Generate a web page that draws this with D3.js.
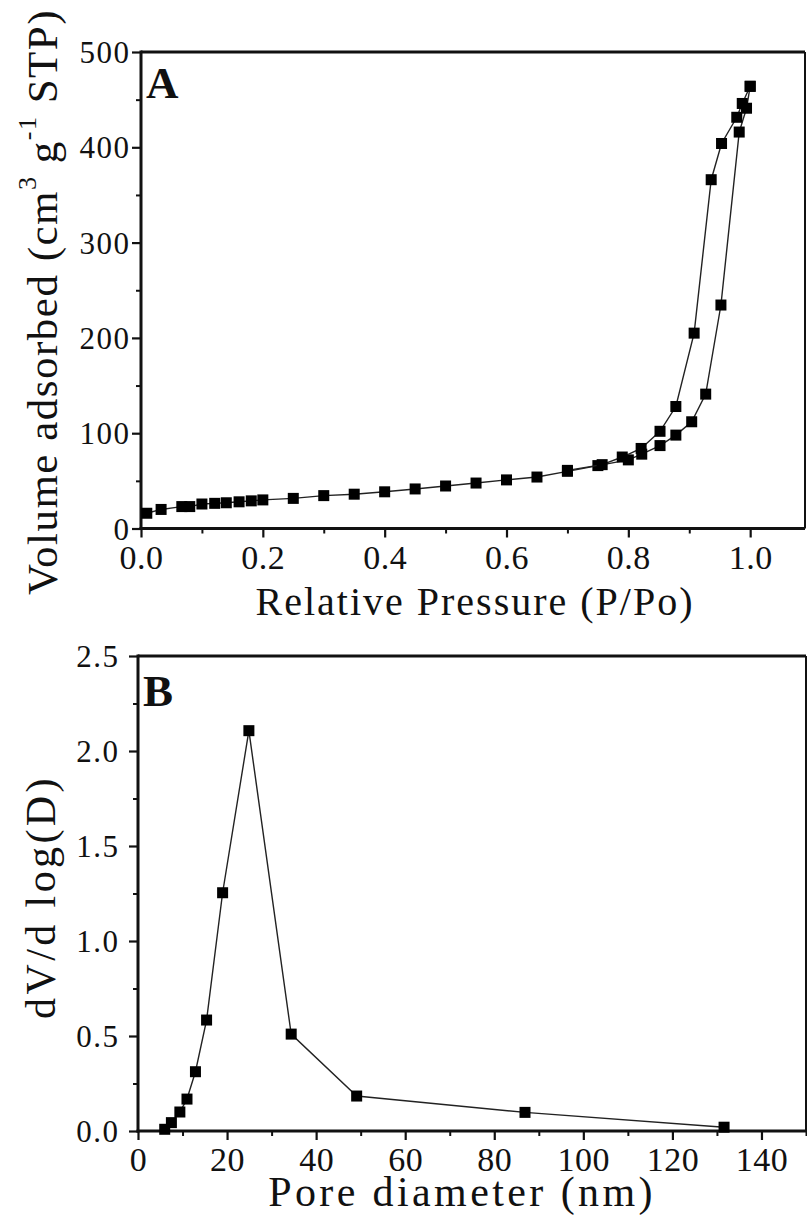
<!DOCTYPE html>
<html>
<head>
<meta charset="utf-8">
<script src="https://cdn.jsdelivr.net/npm/d3@7"></script>
</head>
<body style="margin:0;background:#fff">
<svg id="chart" width="807" height="1231"></svg>
<script>
// ---------- Data (panel A: N2 isotherm) ----------
const adsorptionP = [0.0095,0.033,0.067,0.08,0.1,0.121,0.14,0.161,0.181,0.2,0.25,0.30,0.35,0.40,0.45,0.50,0.55,0.60,0.65,0.70,0.75,0.80,0.822,0.852,0.878,0.904,0.927,0.952,0.982,0.994,1.0];
const adsorptionV = [16,20,23,23,25.7,26.4,27,28,29,30,31.6,34.5,36,38.5,41.5,44.6,47.7,51,54,60,66,72,78,87,98,112,141,234.5,416,441,464];
const desorptionP = [1.0,0.987,0.978,0.953,0.936,0.908,0.878,0.852,0.821,0.79,0.757,0.70];
const desorptionV = [464,446,431.5,404,366,205,128,102,84,75,67,61];

// ---------- Data (panel B: pore size distribution) ----------
const poreD = [6.0,7.5,9.4,11.0,12.9,15.4,19.0,24.9,34.4,49.1,86.9,131.6];
const poreV = [0.009,0.044,0.1,0.168,0.312,0.584,1.254,2.107,0.51,0.184,0.098,0.02];

// ---------- Tick labels ----------
const aXTicks = [0,0.2,0.4,0.6,0.8,1.0];
const aXMinor = [0.1,0.3,0.5,0.7,0.9];
const aYTicks = [0,100,200,300,400,500];
const aYMinor = [50,150,250,350,450];
const bXTicks = [0,20,40,60,80,100,120,140];
const bXMinor = [10,30,50,70,90,110,130,150];
const bYTicks = [0,0.5,1.0,1.5,2.0,2.5];
const bYMinor = [0.25,0.75,1.25,1.75,2.25];

const FONT = "Liberation Serif";
const svg = d3.select("#chart");

function panel(cfg) {
  const x = d3.scaleLinear().domain(cfg.xDomain).range(cfg.xRange);
  const y = d3.scaleLinear().domain(cfg.yDomain).range(cfg.yRange);
  const g = svg.append("g");
  const x0 = cfg.xRange[0], x1 = cfg.xRange[1], yb = cfg.yRange[0], yt = cfg.yRange[1];

  // minor ticks
  g.append("g").attr("transform", `translate(0,${yb})`)
    .call(d3.axisBottom(x).tickValues(cfg.xMinor).tickSize(5).tickFormat(""))
    .call(s => s.select(".domain").remove())
    .call(s => s.selectAll("line").attr("stroke-width", 2).attr("stroke", "#111"));
  g.append("g").attr("transform", `translate(${x0},0)`)
    .call(d3.axisLeft(y).tickValues(cfg.yMinor).tickSize(5).tickFormat(""))
    .call(s => s.select(".domain").remove())
    .call(s => s.selectAll("line").attr("stroke-width", 2).attr("stroke", "#111"));

  // major x ticks
  g.append("g").attr("transform", `translate(0,${yb})`)
    .call(d3.axisBottom(x).tickValues(cfg.xTicks).tickSize(9).tickFormat(cfg.xFmt))
    .call(s => s.attr("font-family", FONT))
    .call(s => s.select(".domain").remove())
    .call(s => s.selectAll("line").attr("stroke-width", 2.2).attr("stroke", "#111"))
    .call(s => s.selectAll("text")
      .attr("font-family", FONT).attr("font-size", 34).attr("fill", "#111")
      .attr("letter-spacing", 0.5)
      .attr("y", 40).attr("dy", 0));

  // major y ticks
  g.append("g").attr("transform", `translate(${x0},0)`)
    .call(d3.axisLeft(y).tickValues(cfg.yTicks).tickSize(9).tickFormat(cfg.yFmt))
    .call(s => s.attr("font-family", FONT))
    .call(s => s.select(".domain").remove())
    .call(s => s.selectAll("line").attr("stroke-width", 2.2).attr("stroke", "#111"))
    .call(s => s.selectAll("text")
      .attr("font-family", FONT).attr("font-size", 31).attr("fill", "#111")
      .attr("letter-spacing", 1.5)
      .attr("x", -cfg.yGap + 1.5).attr("dy", "0.34em"));

  // frame
  g.append("line").attr("x1", x0).attr("x2", x1).attr("y1", yt).attr("y2", yt).attr("stroke", "#111").attr("stroke-width", 3);
  g.append("line").attr("x1", x1).attr("x2", x1).attr("y1", yt).attr("y2", yb).attr("stroke", "#111").attr("stroke-width", 2);
  g.append("line").attr("x1", x0).attr("x2", x0).attr("y1", yt - 1.5).attr("y2", yb + 1.5).attr("stroke", "#111").attr("stroke-width", 3);
  g.append("line").attr("x1", x0 - 1.5).attr("x2", x1).attr("y1", yb).attr("y2", yb).attr("stroke", "#111").attr("stroke-width", 3);

  // series
  cfg.series.forEach(ser => {
    const pts = ser.xs.map((v, i) => [v, ser.ys[i]]);
    g.append("path").datum(pts)
      .attr("fill", "none").attr("stroke", "#222").attr("stroke-width", 1.4)
      .attr("d", d3.line().x(d => x(d[0])).y(d => y(d[1])));
    g.selectAll(null).data(pts).enter().append("rect")
      .attr("x", d => x(d[0]) - 5.5).attr("y", d => y(d[1]) - 5.5)
      .attr("width", 11).attr("height", 11).attr("fill", "#000");
  });

  // panel letter
  g.append("text").attr("x", x0 + 5).attr("y", cfg.letterY)
    .attr("font-family", FONT).attr("fill", "#111")
    .attr("font-size", 45).attr("font-weight", "bold").text(cfg.letter);
  return g;
}

panel({
  xDomain: [0, 1.09], xRange: [141, 805],
  yDomain: [0, 500], yRange: [528.5, 52],
  xTicks: aXTicks, xMinor: aXMinor, yTicks: aYTicks, yMinor: aYMinor,
  xFmt: d3.format(".1f"), yFmt: d3.format("d"), yGap: 12,
  series: [{xs: adsorptionP, ys: adsorptionV}, {xs: desorptionP, ys: desorptionV}],
  letter: "A", letterY: 98
});

panel({
  xDomain: [0, 150], xRange: [138, 806],
  yDomain: [0, 2.5], yRange: [1131, 656],
  xTicks: bXTicks, xMinor: bXMinor, yTicks: bYTicks, yMinor: bYMinor,
  xFmt: d3.format("d"), yFmt: d3.format(".1f"), yGap: 20,
  series: [{xs: poreD, ys: poreV}],
  letter: "B", letterY: 706
});

// axis titles
svg.append("text").attr("x", 475).attr("y", 615).attr("text-anchor", "middle")
  .attr("font-family", FONT).attr("fill", "#111")
  .attr("font-size", 40).attr("letter-spacing", 2)
  .text("Relative Pressure (P/Po)");
svg.append("text").attr("x", 462).attr("y", 1206).attr("text-anchor", "middle")
  .attr("font-family", FONT).attr("fill", "#111")
  .attr("font-size", 42).attr("letter-spacing", 3.4)
  .text("Pore diameter (nm)");

const yt1 = svg.append("text").attr("transform", "translate(57,302) rotate(-90)")
  .attr("text-anchor", "middle").attr("font-size", 43).attr("letter-spacing", 1.5)
  .attr("font-family", FONT).attr("fill", "#111");
yt1.append("tspan").text("Volume adsorbed (cm");
yt1.append("tspan").attr("font-size", 26).attr("dy", -21).text("3");
yt1.append("tspan").attr("dy", 21).text(" g");
yt1.append("tspan").attr("font-size", 26).attr("dy", -21).text("-1");
yt1.append("tspan").attr("dy", 21).text(" STP)");

svg.append("text").attr("transform", "translate(55,897) rotate(-90)")
  .attr("font-family", FONT).attr("fill", "#111")
  .attr("text-anchor", "middle").attr("font-size", 42).attr("letter-spacing", 3.4)
  .text("dV/d log(D)");
</script>
</body>
</html>
